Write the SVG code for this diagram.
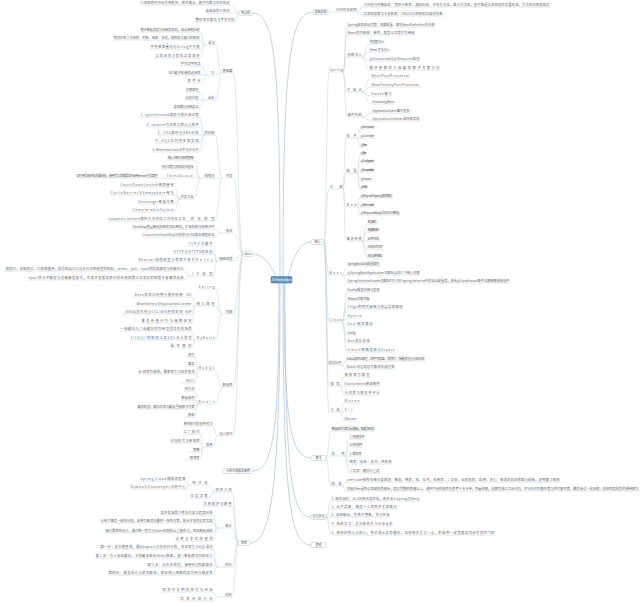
<svg xmlns="http://www.w3.org/2000/svg" width="640" height="607" viewBox="0 0 640 607">
<style>
text{font-family:"Noto Sans CJK SC","Liberation Sans",sans-serif;font-size:3.3px;fill:#6a6a6a}
.e{text-anchor:end}
.s{text-anchor:start}
.c{fill:none;stroke:#c2d6e3;stroke-width:0.55}
.m{fill:none;stroke:#afc8da;stroke-width:0.8}
.b{fill:#fff;stroke:#b3c2cc;stroke-width:0.5}
.bt{font-size:3px;text-anchor:middle;fill:#555}
</style>
<rect width="640" height="607" fill="#fff"/>
<g id="connectors">
<path class="m" d="M280 277C280 60 275 13 252 13M283 277C283 60 290 12 313 12M276 277C270 262 262 254 252 254M288 277C294 255 300 242 311 242M279 283C279 420 275 471 253 471M280 283C280 480 272 543 250 543M284 283C284 420 290 458 311 458M285 283C285 480 292 517 311 517M283 283C283 500 290 545 311 545"/>
<path class="c" d="M239 13C234.5 13 234.5 5 230 5H140M239 13H205M239 13C237 13 237 22 235 22H195"/>
<path class="c" d="M243 254C238 254 238 73 233 73H222M243 254C238 254 238 178 233 178H222M243 254C238 254 238 233 233 233H222M243 254C238 254 238 261 233 261H217M243 254C238 254 238 314 233 314H222M243 254C238 254 238 387 233 387H222M243 254C238 254 238 436 233 436H217"/>
<path class="c" d="M222 73C218.5 73 218.5 45 215 45H205M222 73C218.5 73 218.5 75 215 75H207M222 73C218.5 73 218.5 100 215 100H205"/>
<path class="c" d="M205 45C202.5 45 202.5 32 200 32H140M205 45C202.5 45 202.5 40 200 40H113M205 45C202.5 45 202.5 49 200 49H150M205 45C202.5 45 202.5 58 200 58H155"/>
<path class="c" d="M207 75C204 75 204 66 201 66H180M207 75H168M207 75C204 75 204 83 201 83H187"/>
<path class="c" d="M205 100C202 100 202 92 199 92H185M205 100H185M205 100C202 100 202 109 199 109H173"/>
<path class="c" d="M222 178C218.5 178 218.5 135 215 135H205M222 178H200M222 178C218.5 178 218.5 221 215 221H190"/>
<path class="c" d="M205 135C202 135 202 117 199 117H140M205 135C202 135 202 127 199 127H146M205 135H157M205 135C202 135 202 143 199 143H155M205 135C202 135 202 152 199 152H152"/>
<path class="c" d="M200 178C197 178 197 160 194 160H167M200 178C197 178 197 169 194 169H161M200 178H76M200 178C197 178 197 199 194 199H180"/>
<path class="c" d="M180 199C177 199 177 187 174 187H120M180 199C177 199 177 195 174 195H110M180 199C177 199 177 204 174 204H138M180 199C177 199 177 212 174 212H132M190 221H108"/>
<path class="c" d="M222 233C218.5 233 218.5 229 215 229H132M222 233C218.5 233 218.5 237 215 237H142"/>
<path class="c" d="M217 261C215 261 215 246 213 246H188M217 261C215 261 215 254 213 254H173M217 261C215 261 215 262 213 262H137M217 261C215 261 215 276 213 276H190M190 276C186.5 276 186.5 271 184 271H5M190 276C186.5 276 186.5 280 184 280H28"/>
<path class="c" d="M222 314C218.5 314 218.5 289 215 289H198M222 314C218.5 314 218.5 306 215 306H195M222 314C218.5 314 218.5 340 215 340H195"/>
<path class="c" d="M195 306C193.5 306 193.5 297 192 297H133M195 306H135M195 306C193.5 306 193.5 314 192 314H123M195 306C193.5 306 193.5 323 192 323H140"/>
<path class="c" d="M195 340C193.5 340 193.5 331 192 331H120M195 340H130M195 340C193.5 340 193.5 348 192 348H170"/>
<path class="c" d="M222 387C218.5 387 218.5 370 215 370H198M222 387C218.5 387 218.5 404 215 404H198"/>
<path class="c" d="M198 370C196.5 370 196.5 357 195 357H186M198 370C196.5 370 196.5 366 195 366H186M198 370C196.5 370 196.5 374 195 374H138M198 370C196.5 370 196.5 383 195 383H180"/>
<path class="c" d="M198 404C196.5 404 196.5 391 195 391H184M198 404C196.5 404 196.5 400 195 400H181M198 404C196.5 404 196.5 409 195 409H137M198 404C196.5 404 196.5 417 195 417H184"/>
<path class="c" d="M217 436C215 436 215 426 213 426H183M217 436C215 436 215 447 213 447H203M203 447C201.5 447 201.5 434 200 434H183M203 447C201.5 447 201.5 443 200 443H170M203 447C201.5 447 201.5 452 200 452H188M203 447C201.5 447 201.5 460 200 460H184"/>
<path class="c" d="M238 543C235 543 235 492 232 492H215M238 543C235 543 235 506 232 506H203M238 543C235 543 235 528 232 528H217M238 543C235 543 235 567 232 567H217M238 543C235 543 235 597 232 597H217"/>
<path class="c" d="M215 492C211.5 492 211.5 485 208 485H189M215 492C211.5 492 211.5 498 208 498H190M189 485C187.5 485 187.5 481 186 481H140M189 485C187.5 485 187.5 489 186 489H130"/>
<path class="c" d="M217 528C215 528 215 515 213 515H160M217 528C215 528 215 523 213 523H100M217 528C215 528 215 533 213 533H105M217 528C215 528 215 541 213 541H175"/>
<path class="c" d="M217 567C215 567 215 549 213 549H100M217 567C215 567 215 558 213 558H95M217 567H147M217 567C215 567 215 575 213 575H108M217 597C215 597 215 592 213 592H162M217 597C215 597 215 601 213 601H180"/>
<path class="c" d="M328 12H357M357 12C360 12 360 7 363 7H550M357 12C360 12 360 16 363 16H443"/>
<path class="c" d="M324 242C326.5 242 326.5 72 329 72H343M324 242C326.5 242 326.5 189 329 189H343M324 242C326.5 242 326.5 275 329 275H342M324 242C326.5 242 326.5 322 329 322H342M324 242C326.5 242 326.5 365 329 365H342M324 242C326.5 242 326.5 386 329 386H340M324 242C326.5 242 326.5 412 329 412H340"/>
<path class="c" d="M343 72C345 72 345 27 347 27H435M343 72C345 72 345 35 347 35H415M343 72C345 72 345 57 347 57H362M343 72C345 72 345 92 347 92H362M343 72C345 72 345 117 347 117H362"/>
<path class="c" d="M362 57C365.5 57 365.5 44 369 44H385M362 57C365.5 57 365.5 52 369 52H390M362 57C365.5 57 365.5 61 369 61H420M362 57C365.5 57 365.5 70 369 70H440"/>
<path class="c" d="M362 92C366.5 92 366.5 78 371 78H410M362 92C366.5 92 366.5 87 371 87H420M362 92C366.5 92 366.5 96 371 96H392M362 92C366.5 92 366.5 104 371 104H395M362 117C367 117 367 113 372 113H410M362 117C367 117 367 121 372 121H420"/>
<path class="c" d="M343 189C344.5 189 344.5 138 346 138H357M343 189C344.5 189 344.5 173 346 173H357M343 189C344.5 189 344.5 207 346 207H357M343 189C344.5 189 344.5 241 346 241H362"/>
<path class="c" d="M357 138C358.5 138 358.5 129 360 129H375M357 138H375M357 138C358.5 138 358.5 147 360 147H368"/>
<path class="c" d="M357 173C358.5 173 358.5 155 360 155H366M357 173C358.5 173 358.5 163 360 163H375M357 173C358.5 173 358.5 172 360 172H375M357 173C358.5 173 358.5 181 360 181H372M357 173C358.5 173 358.5 189 360 189H367"/>
<path class="c" d="M357 207C358.5 207 358.5 198 360 198H393M357 207H375M357 207C358.5 207 358.5 215 360 215H400"/>
<path class="c" d="M362 241C364.5 241 364.5 224 367 224H377M362 241C364.5 241 364.5 232 367 232H380M362 241H380M362 241C364.5 241 364.5 249 367 249H383M362 241C364.5 241 364.5 258 367 258H383"/>
<path class="c" d="M342 275C344.5 275 344.5 266 347 266H380M342 275H420M342 275C344.5 275 344.5 283 347 283H510"/>
<path class="c" d="M342 322C344.5 322 344.5 292 347 292H380M342 322C344.5 322 344.5 301 347 301H370M342 322C344.5 322 344.5 309 347 309H403M342 322C344.5 322 344.5 318 347 318H362M342 322C344.5 322 344.5 326 347 326H373M342 322C344.5 322 344.5 335 347 335H356M342 322C344.5 322 344.5 343 347 343H370M342 322C344.5 322 344.5 352 347 352H395"/>
<path class="c" d="M342 365C344 365 344 361 346 361H425M342 365C344 365 344 369 346 369H395M340 386C342 386 342 377 344 377H370M340 386H380M340 386C342 386 342 395 344 395H380M340 412C342 412 342 403 344 403H360M340 412H353M340 412C342 412 342 421 344 421H357"/>
<path class="c" d="M326 458C328.5 458 328.5 431 331 431H375M326 458C328.5 458 328.5 456 331 456H345M326 458C328.5 458 328.5 486 331 486H342"/>
<path class="c" d="M345 456C347 456 347 439 349 439H365M345 456C347 456 347 447 349 447H363M345 456H362M345 456C347 456 347 464 349 464H392M345 456C347 456 347 473 349 473H380M342 486C344 486 344 482 346 482H560M342 486C344 486 344 491 346 491H640"/>
<path class="c" d="M326 517C328.5 517 328.5 501 331 501H420M326 517C328.5 517 328.5 509 331 509H397M326 517H390M326 517C328.5 517 328.5 526 331 526H393M326 517C328.5 517 328.5 535 331 535H495"/>
</g>
<g id="center"><rect x="271" y="276.5" width="21" height="6.5" rx="1" fill="#5f91bb" stroke="#3f6f98" stroke-width="0.5"/><text x="281.5" y="281" class="bt" style="fill:#fff;font-size:2.8px">JAVA架构师路线</text></g>
<g id="L0"><rect class="b" x="239" y="10.5" width="13" height="5" rx="1.2"/><text class="bt" x="245.5" y="14.1">面试题</text></g>
<g id="L0a"><text class="e" x="229.5" y="4.1" textLength="89">介绍项目时突出负责模块、技术难点、解决方案与优化效果</text></g>
<g id="L0b"><text class="e" x="229.5" y="12.1" textLength="24">准备自我介绍词</text></g>
<g id="L0c"><text class="e" x="234.5" y="21.1" textLength="39">整理常见算法与手写代码</text></g>
<g id="L1"><rect class="b" x="243" y="251.5" width="9" height="5" rx="1.2"/><text class="bt" x="247.5" y="255.1">Java</text></g>
<g id="L1a"><text class="e" x="232.5" y="72.1">基础篇</text></g>
<g id="a1"><text class="e" x="214.5" y="44.1">语法</text></g>
<g id="a1a"><text class="e" x="199.5" y="31.1" textLength="59">基本数据类型与包装类区别，自动装箱拆箱</text></g>
<g id="a1b"><text class="e" x="199.5" y="39.1" textLength="86">面向对象三大特性：封装、继承、多态，抽象类与接口的区别</text></g>
<g id="a1c"><text class="e" x="199.5" y="48.1" textLength="49">字符串常量池与String不可变</text></g>
<g id="a1d"><text class="e" x="199.5" y="57.1" textLength="44">异常体系与受检异常处理</text></g>
<g id="a2"><text class="e" x="214.5" y="74.1">IO</text></g>
<g id="a2a"><text class="e" x="200.5" y="65.1" textLength="20">字节流字符流</text></g>
<g id="a2b"><text class="e" x="200.5" y="74.1" textLength="32">NIO缓冲区通道选择器</text></g>
<g id="a2c"><text class="e" x="200.5" y="82.1" textLength="13">序列化</text></g>
<g id="a3"><text class="e" x="214.5" y="99.1">反射</text></g>
<g id="a3a"><text class="e" x="198.5" y="91.1" textLength="13">注解原理</text></g>
<g id="a3b"><text class="e" x="198.5" y="99.1" textLength="13">动态代理</text></g>
<g id="a3c"><text class="e" x="198.5" y="108.1" textLength="25">类加载与双亲委派</text></g>
<g id="L1b"><text class="e" x="232.5" y="177.1">并发</text></g>
<g id="b1"><text class="e" x="214.5" y="134.1">锁机制</text></g>
<g id="b1a"><text class="e" x="198.5" y="116.1" textLength="58">1. synchronized原理与锁升级过程</text></g>
<g id="b1b"><text class="e" x="198.5" y="126.1" textLength="52">2. volatile可见性与禁止重排序</text></g>
<g id="b1c"><text class="e" x="198.5" y="134.1" textLength="41">3. CAS原理与ABA问题</text></g>
<g id="b1d"><text class="e" x="198.5" y="142.1" textLength="43">4. AQS队列同步器实现</text></g>
<g id="b1e"><text class="e" x="198.5" y="151.1" textLength="46">5. ReentrantLock公平与非公平</text></g>
<g id="b2"><text class="e" x="214.5" y="177.1">线程池</text></g>
<g id="b2a"><text class="e" x="193.5" y="159.1" textLength="26">核心参数与拒绝策略</text></g>
<g id="b2b"><text class="e" x="193.5" y="168.1" textLength="32">执行流程与任务队列选择</text></g>
<g id="b2c"><text class="e" x="193.5" y="177.1" textLength="27">ThreadLocal</text></g>
<g id="b2c1"><text class="e" x="157.5" y="177.1" textLength="81">弱引用导致内存泄漏问题，使用完毕后需要及时调用remove方法清理</text></g>
<g id="b2d"><text class="e" x="193.5" y="198.1" textLength="13">并发工具</text></g>
<g id="b2d1"><text class="e" x="173.5" y="186.1" textLength="53">CountDownLatch计数器使用</text></g>
<g id="b2d2"><text class="e" x="173.5" y="194.1" textLength="63">CyclicBarrier与Semaphore用法</text></g>
<g id="b2d3"><text class="e" x="173.5" y="203.1" textLength="35">Exchanger数据交换</text></g>
<g id="b2d4"><text class="e" x="173.5" y="211.1" textLength="41">CompletableFuture</text></g>
<g id="b3"><text class="e" x="214.5" y="220.1" textLength="24">内存模型</text></g>
<g id="b3a"><text class="e" x="185.5" y="220.1" textLength="77">happens-before原则与主内存工作内存交互</text></g>
<g id="L1c"><text class="e" x="232.5" y="232.1">集合</text></g>
<g id="c1"><text class="e" x="214.5" y="228.1" textLength="82">HashMap底层数组加链表加红黑树，扩容机制与哈希冲突</text></g>
<g id="c2"><text class="e" x="214.5" y="236.1" textLength="72">ConcurrentHashMap分段锁与CAS保证线程安全</text></g>
<g id="L1d"><text class="e" x="232.5" y="260.1">网络编程</text></g>
<g id="d1"><text class="e" x="212.5" y="245.1" textLength="24">TCP三次握手</text></g>
<g id="d2"><text class="e" x="212.5" y="253.1" textLength="39">HTTP与HTTPS的区别</text></g>
<g id="d3"><text class="e" x="212.5" y="261.1" textLength="17">Netty</text></g>
<g id="d3a"><text class="e" x="194.5" y="261.1" textLength="56">Reactor线程模型与零拷贝技术</text></g>
<g id="d4"><text class="e" x="212.5" y="275.1" textLength="20">IO模型</text></g>
<g id="d4a"><text class="e" x="183.5" y="270.1" textLength="178">阻塞IO、非阻塞IO、IO多路复用、信号驱动IO与异步IO五种模型的区别，select、poll、epoll的实现原理与性能对比</text></g>
<g id="d4b"><text class="e" x="183.5" y="279.1" textLength="155">epoll的水平触发与边缘触发模式，在高并发服务器中的应用场景以及常见的编程注意事项总结</text></g>
<g id="L1e"><text class="e" x="232.5" y="313.1">框架</text></g>
<g id="e1"><text class="e" x="214.5" y="288.1" textLength="16">Spring</text></g>
<g id="e2"><text class="e" x="214.5" y="305.1" textLength="18">核心原理</text></g>
<g id="e2a"><text class="e" x="191.5" y="296.1">IOC</text></g>
<g id="e2a1"><text class="e" x="182.5" y="296.1" textLength="48">Bean的生命周期与循环依赖</text></g>
<g id="e2b"><text class="e" x="191.5" y="305.1" textLength="55">BeanFactory与ApplicationContext</text></g>
<g id="e2c"><text class="e" x="191.5" y="313.1">AOP</text></g>
<g id="e2c1"><text class="e" x="182.5" y="313.1" textLength="58">JDK动态代理与CGLIB代理的区别</text></g>
<g id="e2d"><text class="e" x="191.5" y="322.1" textLength="50">事务传播行为与隔离级别</text></g>
<g id="e3"><text class="e" x="214.5" y="339.1" textLength="18">MyBatis</text></g>
<g id="e3a"><text class="e" x="191.5" y="330.1" textLength="71">一级缓存与二级缓存的作用范围及失效场景</text></g>
<g id="e3b"><text class="e" x="191.5" y="339.1" textLength="61">#{}与${}的区别以及SQL注入防范</text></g>
<g id="e3c"><text class="e" x="191.5" y="347.1" textLength="21">插件原理</text></g>
<g id="L1f"><text class="e" x="232.5" y="386.1">数据库</text></g>
<g id="f1"><text class="e" x="214.5" y="369.1" textLength="16">MySQL</text></g>
<g id="f1a"><text class="e" x="194.5" y="356.1">索引</text></g>
<g id="f1b"><text class="e" x="194.5" y="365.1">事务</text></g>
<g id="f1c"><text class="e" x="194.5" y="373.1" textLength="56">B+树索引结构，聚簇索引与回表查询</text></g>
<g id="f1d"><text class="e" x="194.5" y="382.1">MVCC</text></g>
<g id="f2"><text class="e" x="214.5" y="403.1" textLength="16">Redis</text></g>
<g id="f2a"><text class="e" x="194.5" y="390.1">持久化</text></g>
<g id="f2b"><text class="e" x="194.5" y="399.1">数据结构</text></g>
<g id="f2c"><text class="e" x="194.5" y="408.1" textLength="57">缓存穿透、缓存击穿与缓存雪崩解决方案</text></g>
<g id="f2d"><text class="e" x="194.5" y="416.1">集群</text></g>
<g id="L1g"><text class="e" x="232.5" y="435.1">设计模式</text></g>
<g id="g1"><text class="e" x="212.5" y="425.1" textLength="29">单例模式的多种写法</text></g>
<g id="g2"><text class="e" x="212.5" y="446.1">常用</text></g>
<g id="g2a"><text class="e" x="199.5" y="433.1" textLength="16">工厂模式</text></g>
<g id="g2b"><text class="e" x="199.5" y="442.1" textLength="29">代理模式与装饰器</text></g>
<g id="g2c"><text class="e" x="199.5" y="451.1">策略</text></g>
<g id="g2d"><text class="e" x="199.5" y="459.1">观察者</text></g>
<g id="L2"><rect class="b" x="223" y="468.5" width="30" height="5" rx="1.2"/><text class="bt" x="238" y="472.1">分布式微服务架构</text></g>
<g id="L3"><rect class="b" x="238" y="540.5" width="12" height="5" rx="1.2"/><text class="bt" x="244" y="544.1">项目</text></g>
<g id="p1"><text class="e" x="231.5" y="491.1" textLength="16">项目介绍</text></g>
<g id="p1a"><text class="e" x="207.5" y="484.1" textLength="15">技术栈</text></g>
<g id="p1a1"><text class="e" x="185.5" y="480.1" textLength="45">Spring Cloud微服务框架</text></g>
<g id="p1a2"><text class="e" x="185.5" y="488.1" textLength="55">Dubbo与Zookeeper注册中心</text></g>
<g id="p1b"><text class="e" x="207.5" y="497.1" textLength="17">业务流程</text></g>
<g id="p2"><text class="e" x="231.5" y="505.1" textLength="28">负责模块与职责</text></g>
<g id="p3"><text class="e" x="231.5" y="527.1">难点</text></g>
<g id="p3a"><text class="e" x="212.5" y="514.1" textLength="52">高并发场景下库存扣减与超卖问题</text></g>
<g id="p3b"><text class="e" x="212.5" y="522.1" textLength="112">分布式事务一致性问题，采用可靠消息最终一致性方案，结合本地消息表实现</text></g>
<g id="p3c"><text class="e" x="212.5" y="532.1" textLength="107">接口幂等性设计，通过唯一索引与Token机制防止重复提交，保证数据准确</text></g>
<g id="p3d"><text class="e" x="212.5" y="540.1" textLength="37">分库分表后的查询</text></g>
<g id="p4"><text class="e" x="231.5" y="566.1">优化</text></g>
<g id="p4a"><text class="e" x="212.5" y="548.1" textLength="112">第一步：定位慢查询，通过explain分析执行计划，优化索引与SQL语句</text></g>
<g id="p4b"><text class="e" x="212.5" y="557.1" textLength="117">第二步：引入多级缓存，本地缓存结合Redis集群，减少数据库访问的压力</text></g>
<g id="p4c"><text class="e" x="212.5" y="566.1" textLength="65">第三步：异步化处理，使用MQ削峰填谷</text></g>
<g id="p4d"><text class="e" x="212.5" y="574.1" textLength="104">第四步：服务拆分与限流降级，保证核心链路的高可用与稳定性</text></g>
<g id="p5"><text class="e" x="231.5" y="596.1">总结</text></g>
<g id="p5a"><text class="e" x="212.5" y="591.1" textLength="50">项目中学到的技术与经验</text></g>
<g id="p5b"><text class="e" x="212.5" y="600.1" textLength="32">后续改进方向</text></g>
<g id="A"><rect class="b" x="313" y="9.5" width="15" height="5" rx="1.2"/><text class="bt" x="320.5" y="13.1">基础总结</text></g>
<g id="A1"><text class="s" x="335.5" y="11.1" textLength="21">JVM内存结构</text></g>
<g id="A1a"><text class="s" x="363.5" y="6.1" textLength="186">JVM运行时数据区：程序计数器、虚拟机栈、本地方法栈、堆与方法区，其中堆是垃圾回收的主要区域，方法区存放类信息</text></g>
<g id="A1b"><text class="s" x="363.5" y="15.1" textLength="79">垃圾回收算法与收集器：CMS与G1的区别及调优参数</text></g>
<g id="B"><rect class="b" x="311" y="239.5" width="13" height="5" rx="1.2"/><text class="bt" x="317.5" y="243.1">核心</text></g>
<g id="B1"><text class="s" x="329.5" y="71.1" textLength="13">Spring</text></g>
<g id="B1a"><text class="s" x="347.5" y="26.1" textLength="87">Spring容器启动流程：加载配置、解析BeanDefinition并注册</text></g>
<g id="B1b"><text class="s" x="347.5" y="34.1" textLength="67">Bean的作用域：单例、原型以及其它作用域</text></g>
<g id="B1c"><text class="s" x="347.5" y="56.1" textLength="14">依赖注入</text></g>
<g id="B1c1"><text class="s" x="369.5" y="43.1" textLength="15">构造器注入</text></g>
<g id="B1c2"><text class="s" x="369.5" y="51.1" textLength="20">Setter方法注入</text></g>
<g id="B1c3"><text class="s" x="369.5" y="60.1" textLength="50">@Autowired与@Resource区别</text></g>
<g id="B1c4"><text class="s" x="369.5" y="69.1" textLength="70">循环依赖的三级缓存解决方案分析</text></g>
<g id="B1d"><text class="s" x="347.5" y="91.1" textLength="14">扩展点</text></g>
<g id="B1d1"><text class="s" x="371.5" y="77.1" textLength="38">BeanPostProcessor</text></g>
<g id="B1d2"><text class="s" x="371.5" y="86.1" textLength="48">BeanFactoryPostProcessor</text></g>
<g id="B1d3"><text class="s" x="371.5" y="95.1" textLength="20">Aware接口</text></g>
<g id="B1d4"><text class="s" x="371.5" y="103.1" textLength="23">InitializingBean</text></g>
<g id="B1e"><text class="s" x="347.5" y="116.1" textLength="14">事件机制</text></g>
<g id="B1e1"><text class="s" x="372.5" y="112.1" textLength="37">ApplicationEvent事件发布</text></g>
<g id="B1e2"><text class="s" x="372.5" y="120.1" textLength="47">ApplicationListener监听器实现</text></g>
<g id="B2"><text class="s" x="329.5" y="188.1" textLength="13">注解</text></g>
<g id="B2a"><text class="s" x="346.5" y="137.1" textLength="10">组件</text></g>
<g id="B2a1"><text class="s" x="360.5" y="128.1" textLength="14">@Component</text></g>
<g id="B2a2"><text class="s" x="360.5" y="137.1" textLength="14">@Controller</text></g>
<g id="B2a3"><text class="s" x="360.5" y="146.1" textLength="7">@Bean</text></g>
<g id="B2b"><text class="s" x="346.5" y="172.1" textLength="10">配置</text></g>
<g id="B2b1"><text class="s" x="360.5" y="154.1" textLength="6">@Value</text></g>
<g id="B2b2"><text class="s" x="360.5" y="162.1" textLength="14">@Configuration</text></g>
<g id="B2b3"><text class="s" x="360.5" y="171.1" textLength="14">@ComponentScan</text></g>
<g id="B2b4"><text class="s" x="360.5" y="180.1" textLength="11">@Import</text></g>
<g id="B2b5"><text class="s" x="360.5" y="188.1" textLength="7">@Profile</text></g>
<g id="B2c"><text class="s" x="346.5" y="206.1" textLength="10">Web</text></g>
<g id="B2c1"><text class="s" x="360.5" y="197.1" textLength="32">@RequestMapping请求映射</text></g>
<g id="B2c2"><text class="s" x="360.5" y="206.1" textLength="14">@RestController</text></g>
<g id="B2c3"><text class="s" x="360.5" y="214.1" textLength="39">@ResponseBody返回JSON数据</text></g>
<g id="B2d"><text class="s" x="346.5" y="240.1" textLength="15">事务传播</text></g>
<g id="B2d1"><text class="s" x="367.5" y="223.1" textLength="9">REQUIRED</text></g>
<g id="B2d2"><text class="s" x="367.5" y="231.1" textLength="12">REQUIRES_NEW</text></g>
<g id="B2d3"><text class="s" x="367.5" y="240.1" textLength="12">SUPPORTS</text></g>
<g id="B2d4"><text class="s" x="367.5" y="248.1" textLength="15">MANDATORY</text></g>
<g id="B2d5"><text class="s" x="367.5" y="257.1" textLength="15">NOT_SUPPORTED</text></g>
<g id="B3"><text class="s" x="329.5" y="274.1" textLength="12">Boot</text></g>
<g id="B3a"><text class="s" x="347.5" y="265.1" textLength="32">SpringBoot自动配置原理</text></g>
<g id="B3b"><text class="s" x="347.5" y="274.1" textLength="72">@SpringBootApplication注解包含的三个核心注解</text></g>
<g id="B3c"><text class="s" x="347.5" y="282.1" textLength="162">SpringFactoriesLoader加载META-INF/spring.factories中的自动配置类，结合@Conditional条件注解按需装配组件</text></g>
<g id="B4"><text class="s" x="329.5" y="321.1" textLength="12">Cloud</text></g>
<g id="B4a"><text class="s" x="347.5" y="291.1" textLength="32">Eureka服务注册与发现</text></g>
<g id="B4b"><text class="s" x="347.5" y="300.1" textLength="22">Ribbon负载均衡</text></g>
<g id="B4c"><text class="s" x="347.5" y="308.1" textLength="55">Feign声明式调用与底层实现原理</text></g>
<g id="B4d"><text class="s" x="347.5" y="317.1" textLength="14">Hystrix</text></g>
<g id="B4e"><text class="s" x="347.5" y="325.1" textLength="25">Zuul网关路由</text></g>
<g id="B4f"><text class="s" x="347.5" y="334.1" textLength="8">Config</text></g>
<g id="B4g"><text class="s" x="347.5" y="342.1" textLength="22">Bus消息总线</text></g>
<g id="B4h"><text class="s" x="347.5" y="351.1" textLength="47">Sleuth链路追踪与Zipkin</text></g>
<g id="B5"><text class="s" x="328.5" y="364.1" textLength="13">消息队列</text></g>
<g id="B5a"><text class="s" x="346.5" y="360.1" textLength="78">Kafka高吞吐原理：顺序写磁盘、零拷贝、批量发送与分区机制</text></g>
<g id="B5b"><text class="s" x="346.5" y="368.1" textLength="48">RabbitMQ消息可靠性投递方案</text></g>
<g id="B6"><text class="s" x="330.5" y="385.1" textLength="9">搜索</text></g>
<g id="B6a"><text class="s" x="344.5" y="376.1" textLength="25">倒排索引原理</text></g>
<g id="B6b"><text class="s" x="344.5" y="385.1" textLength="35">Elasticsearch集群架构</text></g>
<g id="B6c"><text class="s" x="344.5" y="394.1" textLength="35">分词器与相关性评分</text></g>
<g id="B7"><text class="s" x="330.5" y="411.1" textLength="9">工具</text></g>
<g id="B7a"><text class="s" x="344.5" y="402.1" textLength="15">Maven</text></g>
<g id="B7b"><text class="s" x="344.5" y="411.1" textLength="8">Git</text></g>
<g id="B7c"><text class="s" x="344.5" y="420.1" textLength="12">Docker</text></g>
<g id="C"><rect class="b" x="311" y="455.5" width="15" height="5" rx="1.2"/><text class="bt" x="318.5" y="459.1">算法</text></g>
<g id="C1"><text class="s" x="331.5" y="430.1" textLength="43">数据结构与算法是基础，需要多刷题</text></g>
<g id="C2"><text class="s" x="331.5" y="455.1" textLength="13">排序</text></g>
<g id="C2a"><text class="s" x="349.5" y="438.1" textLength="15">1. 快速排序</text></g>
<g id="C2b"><text class="s" x="349.5" y="446.1" textLength="13">2. 归并排序</text></g>
<g id="C2c"><text class="s" x="349.5" y="455.1" textLength="12">3. 堆排序</text></g>
<g id="C2d"><text class="s" x="349.5" y="463.1" textLength="42">链表：反转、合并、环检测</text></g>
<g id="C2e"><text class="s" x="349.5" y="472.1" textLength="30">二叉树：遍历与重建</text></g>
<g id="C3"><text class="s" x="331.5" y="485.1" textLength="10">刷题</text></g>
<g id="C3a"><text class="s" x="346.5" y="481.1" textLength="213">LeetCode按照标签分类刷题：数组、链表、栈、队列、哈希表、二叉树、动态规划、回溯、贪心；每道题总结思路与模板，定期复习错题</text></g>
<g id="C3b"><text class="s" x="346.5" y="490.1" textLength="292">剑指Offer是面试高频题目来源，建议完整刷两遍以上；遇到不会的题目先思考十五分钟，再看题解，理解后独立写出代码，并分析时间复杂度与空间复杂度，最后尝试一题多解，总结同类题型的通用解法</text></g>
<g id="D"><rect class="b" x="311" y="514.5" width="15" height="5" rx="1.2"/><text class="bt" x="318.5" y="518.1">学习方法</text></g>
<g id="D1"><text class="s" x="331.5" y="500.1" textLength="88">1. 阅读源码：从JDK集合类开始，逐步深入Spring与Netty</text></g>
<g id="D2"><text class="s" x="331.5" y="508.1" textLength="65">2. 动手实践：搭建个人项目并记录笔记</text></g>
<g id="D3"><text class="s" x="331.5" y="516.1" textLength="58">3. 总结输出：写技术博客，参与开源</text></g>
<g id="D4"><text class="s" x="331.5" y="525.1" textLength="61">4. 持续学习：关注新技术与行业动态</text></g>
<g id="D5"><text class="s" x="331.5" y="534.1" textLength="163">5. 保持好奇心与耐心，技术成长没有捷径，坚持每天学习一点，积累到一定程度自然会有质的飞跃</text></g>
<g id="E"><rect class="b" x="311" y="542.5" width="15" height="5" rx="1.2"/><text class="bt" x="318.5" y="546.1">其他</text></g>
</svg>
